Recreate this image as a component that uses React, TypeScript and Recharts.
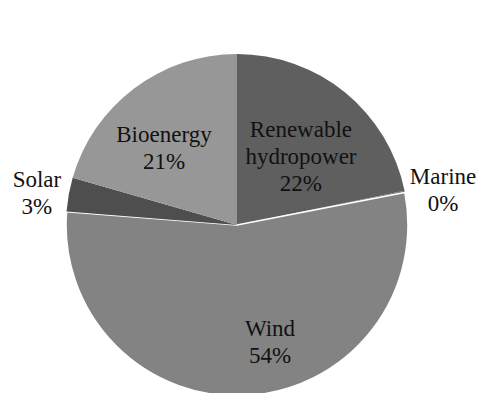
import React from "react";
import { PieChart, Pie, Cell } from "recharts";

// shares of renewable capacity (labels show rounded %)
const categories = ["Renewable hydropower", "Marine", "Wind", "Solar", "Bioenergy"];
const shares = [21.8, 0.15, 54.3, 3.2, 20.55];
const labelLines = [["Renewable", "hydropower"], ["Marine"], ["Wind"], ["Solar"], ["Bioenergy"]];

const fills = ["#5f5f5f", "#6e6e6e", "#838383", "#4e4e4e", "#979797"];
const strokes = ["none", "none", "#ffffff", "none", "none"];

// label anchor, as a fraction of the outer radius from the pie centre
const labelPos = [
  [0.374, -0.398],
  [1.205, -0.205],
  [0.193, 0.684],
  [-1.17, -0.187],
  [-0.427, -0.45],
];

const data = categories.map((c, i) => ({ name: c, value: shares[i] }));

const FONT = "Liberation Serif";
const LINE_H = 27;

function renderLabel(props: any) {
  const { cx, cy, outerRadius, index, percent } = props;
  const [fx, fy] = labelPos[index];
  const x = cx + fx * outerRadius;
  const y = cy + fy * outerRadius;
  const lines = [...labelLines[index], `${Math.round(percent * 100)}%`];
  const n = lines.length;
  return (
    <g key={`lbl-${index}`}>
      {lines.map((l, i) => (
        <text
          key={i}
          x={x}
          y={y + (i - (n - 1) / 2) * LINE_H}
          textAnchor="middle"
          dominantBaseline="central"
          fill="#111"
          fontSize={23}
          style={{ fontFamily: FONT }}
        >
          {l}
        </text>
      ))}
    </g>
  );
}

export default function App() {
  return (
    <div style={{ position: "absolute", left: 0, top: 0, width: 479, height: 393, background: "#fff", overflow: "hidden" }}>
      <PieChart width={479} height={393} margin={{ top: 0, right: 0, bottom: 0, left: 0 }}>
        <Pie
          data={data}
          dataKey="value"
          nameKey="name"
          cx={237}
          cy={225}
          outerRadius={171}
          startAngle={90}
          endAngle={-270}
          labelLine={false}
          label={renderLabel}
          isAnimationActive={false}
        >
          {data.map((d, i) => (
            <Cell key={d.name} fill={fills[i]} stroke={strokes[i]} strokeWidth={strokes[i] === "none" ? 0 : 1.6} />
          ))}
        </Pie>
      </PieChart>
    </div>
  );
}
